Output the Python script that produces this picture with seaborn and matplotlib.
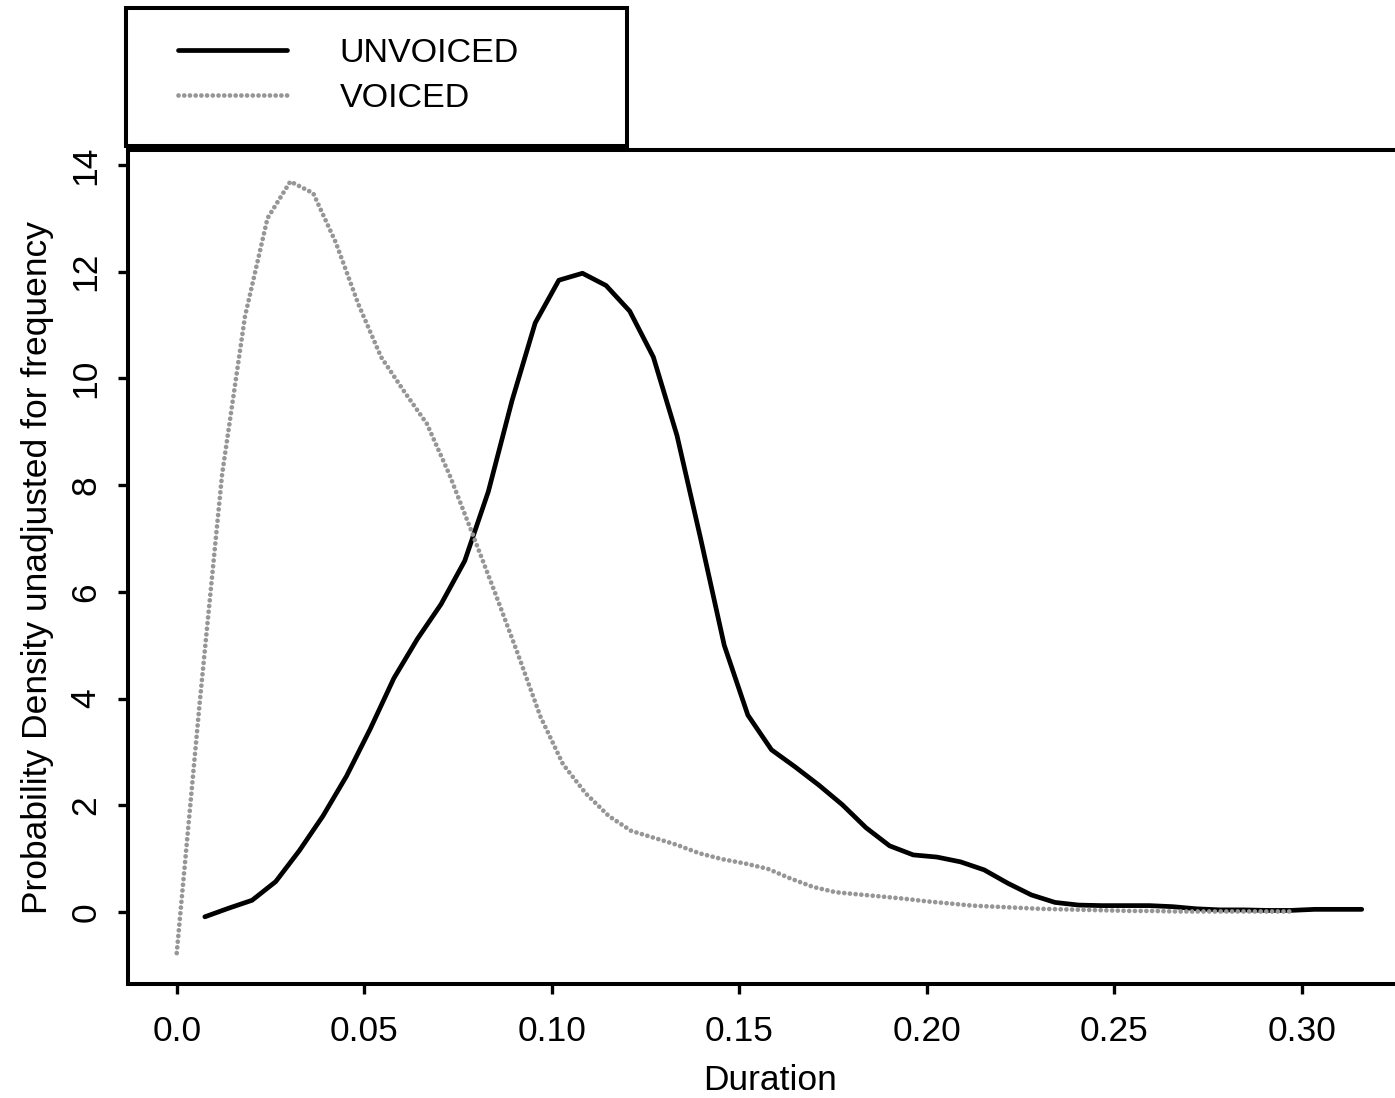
import matplotlib
matplotlib.use("Agg")
import matplotlib.pyplot as plt
import seaborn as sns
import pandas as pd
from matplotlib.patches import Rectangle

# ---------------- data ----------------
series_labels = ["UNVOICED", "VOICED"]

unvoiced_x = [0.0075, 0.0138, 0.0201, 0.0264, 0.0327, 0.0390, 0.0453, 0.0516, 0.0579, 0.0642,
              0.0705, 0.0768, 0.0831, 0.0894, 0.0956, 0.1019, 0.1082, 0.1145, 0.1208, 0.1271,
              0.1334, 0.1397, 0.1460, 0.1523, 0.1586, 0.1649, 0.1712, 0.1775, 0.1838, 0.1901,
              0.1964, 0.2027, 0.2090, 0.2153, 0.2216, 0.2279, 0.2342, 0.2405, 0.2467, 0.2530,
              0.2593, 0.2656, 0.2719, 0.2782, 0.2845, 0.2908, 0.2971, 0.3034, 0.3097, 0.3160]
unvoiced_y = [-0.09, 0.07, 0.22, 0.57, 1.15, 1.80, 2.55, 3.43, 4.38, 5.12,
              5.77, 6.58, 7.88, 9.58, 11.04, 11.84, 11.97, 11.74, 11.26, 10.40,
              8.93, 7.00, 5.00, 3.69, 3.04, 2.72, 2.38, 2.01, 1.58, 1.24,
              1.07, 1.03, 0.94, 0.79, 0.54, 0.32, 0.18, 0.13, 0.12, 0.12,
              0.12, 0.10, 0.06, 0.04, 0.04, 0.03, 0.03, 0.05, 0.05, 0.05]

voiced_x = [0.0000, 0.0061, 0.0121, 0.0182, 0.0242, 0.0303, 0.0364, 0.0424, 0.0485, 0.0545,
            0.0606, 0.0667, 0.0727, 0.0788, 0.0849, 0.0909, 0.0970, 0.1030, 0.1091, 0.1152,
            0.1212, 0.1273, 0.1333, 0.1394, 0.1455, 0.1515, 0.1576, 0.1636, 0.1697, 0.1758,
            0.1818, 0.1879, 0.1939, 0.2000, 0.2061, 0.2121, 0.2182, 0.2242, 0.2303, 0.2364,
            0.2424, 0.2485, 0.2545, 0.2606, 0.2667, 0.2727, 0.2788, 0.2848, 0.2909, 0.2970]
voiced_y = [-0.77, 3.90, 8.20, 11.16, 13.00, 13.69, 13.47, 12.55, 11.38, 10.40,
            9.76, 9.15, 8.20, 7.10, 5.98, 4.85, 3.66, 2.77, 2.22, 1.80,
            1.52, 1.39, 1.26, 1.10, 0.99, 0.91, 0.81, 0.63, 0.47, 0.37,
            0.33, 0.29, 0.25, 0.20, 0.16, 0.12, 0.10, 0.08, 0.06, 0.05,
            0.04, 0.03, 0.02, 0.02, 0.01, 0.01, 0.01, 0.01, 0.01, 0.01]

x_ticks = [0.0, 0.05, 0.10, 0.15, 0.20, 0.25, 0.30]
x_tick_labels = ["0.0", "0.05", "0.10", "0.15", "0.20", "0.25", "0.30"]
y_ticks = [0, 2, 4, 6, 8, 10, 12, 14]
y_tick_labels = ["0", "2", "4", "6", "8", "10", "12", "14"]
x_label = "Duration"
y_label = "Probability Density unadjusted for frequency"

# ---------------- style ----------------
sns.set_style("white")
plt.rcParams["font.family"] = ["Liberation Sans", "DejaVu Sans"]
plt.rcParams["text.color"] = "black"
plt.rcParams["axes.labelcolor"] = "black"
plt.rcParams["xtick.color"] = "black"
plt.rcParams["ytick.color"] = "black"

W, H = 1395, 1098
fig = plt.figure(figsize=(W / 100, H / 100), dpi=100)
fig.patch.set_facecolor("white")

# axes (right edge lies beyond the canvas, as in the reference)
ax = fig.add_axes([128 / W, 1 - 984 / H, (1409 - 128) / W, (984 - 150) / H])
ax.set_facecolor("white")

df_u = pd.DataFrame({"x": unvoiced_x, "y": unvoiced_y})
df_v = pd.DataFrame({"x": voiced_x, "y": voiced_y})

sns.lineplot(data=df_u, x="x", y="y", ax=ax, color="black", linewidth=3.4,
             sort=False, estimator=None, legend=False, solid_capstyle="round",
             solid_joinstyle="round")
sns.lineplot(data=df_v, x="x", y="y", ax=ax, color="#969696", linewidth=3.4,
             sort=False, estimator=None, legend=False,
             linestyle=(0, (0.01, 1.2)), dash_capstyle="round")

ax.set_xlim(-0.01299, 0.3286)
ax.set_ylim(-1.349, 14.28)

for side in ["left", "bottom", "top", "right"]:
    ax.spines[side].set_visible(True)
    ax.spines[side].set_color("black")
    ax.spines[side].set_linewidth(2.9)

FS = 25.5
ax.set_xticks(x_ticks)
ax.set_xticklabels(x_tick_labels, fontsize=FS)
ax.set_yticks(y_ticks)
ax.set_yticklabels(y_tick_labels, fontsize=FS, rotation=90, va="center")
ax.tick_params(axis="both", direction="out", length=7.5, width=2.4, color="black",
               left=True, bottom=True, top=False, right=False)
ax.tick_params(axis="x", pad=15)
ax.tick_params(axis="y", pad=11)

ax.set_xlabel(x_label, fontsize=FS)
ax.set_ylabel(y_label, fontsize=FS, labelpad=11)
ax.xaxis.set_label_coords((770 - 128) / (1409 - 128), -(1080 - 984 - 16) / (984 - 150))

# legend (manual frame, legend entries from the plotted lines)
lines = ax.get_lines()[:2]
fig.legend(lines, series_labels, loc="center left",
           bbox_to_anchor=(178 / W, 1 - 76 / H), frameon=False, fontsize=24.5,
           handlelength=3.2, handletextpad=1.55, labelspacing=0.40,
           borderpad=0, borderaxespad=0)
fig.add_artist(Rectangle((126 / W, 1 - 146 / H), (627 - 126) / W, (146 - 8) / H,
                         transform=fig.transFigure, fill=False, edgecolor="black",
                         linewidth=2.9))

fig.savefig("out.png", dpi=100, facecolor="white")
